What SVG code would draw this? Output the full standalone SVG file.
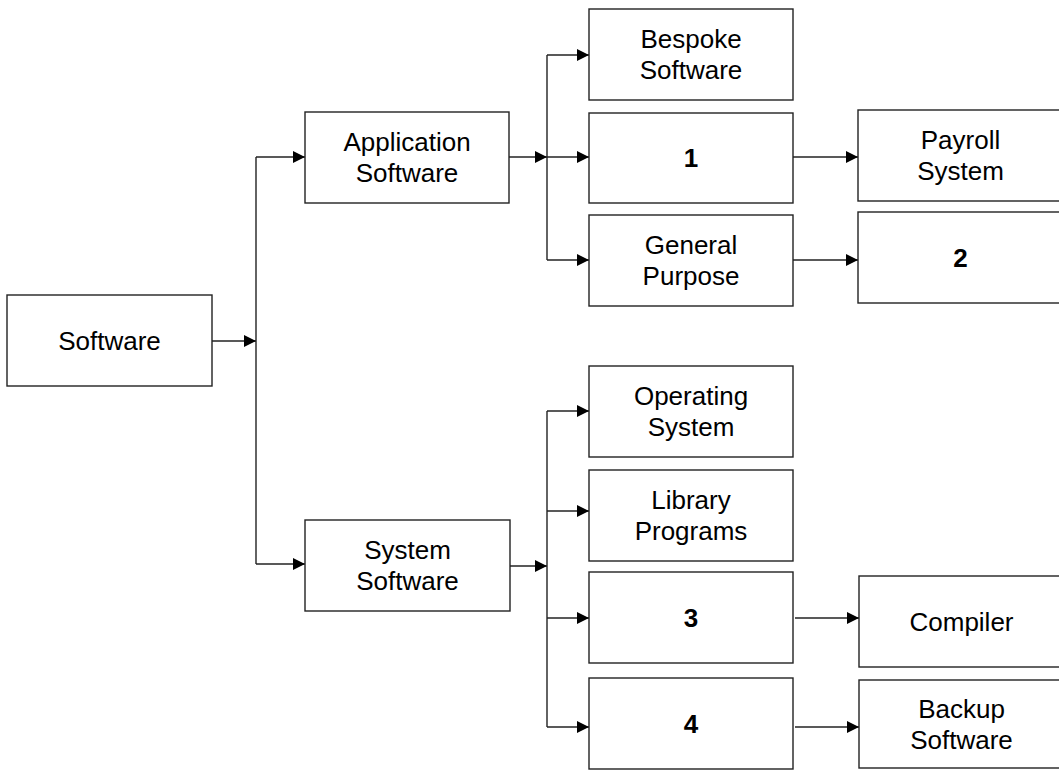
<svg xmlns="http://www.w3.org/2000/svg" width="1059" height="770" viewBox="0 0 1059 770">
<style>
.box{fill:#fff;stroke:#222;stroke-width:1.4}
.t{font-family:"Liberation Sans",Arial,sans-serif;font-size:26px;fill:#000;text-anchor:middle}
.b{font-weight:bold}
.c{fill:none;stroke:#222;stroke-width:1.4}
.a{fill:none;stroke:#222;stroke-width:1.4;marker-end:url(#ah)}
</style>
<defs>
<marker id="ah" markerUnits="userSpaceOnUse" markerWidth="12" markerHeight="12" refX="12" refY="6" orient="auto">
<path d="M0,0 L12,6 L0,12 z" fill="#000"/>
</marker>
</defs>
<rect width="1059" height="770" fill="#fff"/>
<g id="connectors">
<path class="a" d="M212,341 H256"/>
<path class="c" d="M256,157 V564"/>
<path class="a" d="M256,157 H305"/>
<path class="a" d="M256,564 H305"/>
<path class="a" d="M509,157 H547"/>
<path class="c" d="M547,55 V260"/>
<path class="a" d="M547,55 H589"/>
<path class="a" d="M547,157 H589"/>
<path class="a" d="M547,260 H589"/>
<path class="a" d="M793,157 H858"/>
<path class="a" d="M793,260 H858"/>
<path class="a" d="M510,566 H547"/>
<path class="c" d="M547,411 V727"/>
<path class="a" d="M547,411 H589"/>
<path class="a" d="M547,511 H589"/>
<path class="a" d="M547,618 H589"/>
<path class="a" d="M547,727 H589"/>
<path class="a" d="M795,618 H859"/>
<path class="a" d="M795,727 H859"/>
</g>
<g id="software"><rect class="box" x="7" y="295" width="205" height="91"/><text class="t" x="109.5" y="349.5">Software</text></g>
<g id="application"><rect class="box" x="305" y="112" width="204" height="91"/><text class="t" x="407" y="151">Application</text><text class="t" x="407" y="182">Software</text></g>
<g id="system"><rect class="box" x="305" y="520" width="205" height="91"/><text class="t" x="407.5" y="559">System</text><text class="t" x="407.5" y="590">Software</text></g>
<g id="bespoke"><rect class="box" x="589" y="9" width="204" height="91"/><text class="t" x="691" y="48">Bespoke</text><text class="t" x="691" y="79">Software</text></g>
<g id="n1"><rect class="box" x="589" y="113" width="204" height="90"/><text class="t b" x="691" y="167">1</text></g>
<g id="general"><rect class="box" x="589" y="215" width="204" height="91"/><text class="t" x="691" y="254">General</text><text class="t" x="691" y="285">Purpose</text></g>
<g id="payroll"><rect class="box" x="858" y="110" width="205" height="91"/><text class="t" x="960.5" y="149">Payroll</text><text class="t" x="960.5" y="180">System</text></g>
<g id="n2"><rect class="box" x="858" y="212" width="205" height="91"/><text class="t b" x="960.5" y="266.5">2</text></g>
<g id="os"><rect class="box" x="589" y="366" width="204" height="91"/><text class="t" x="691" y="405">Operating</text><text class="t" x="691" y="436">System</text></g>
<g id="library"><rect class="box" x="589" y="470" width="204" height="91"/><text class="t" x="691" y="509">Library</text><text class="t" x="691" y="540">Programs</text></g>
<g id="n3"><rect class="box" x="589" y="572" width="204" height="91"/><text class="t b" x="691" y="626.5">3</text></g>
<g id="n4"><rect class="box" x="589" y="678" width="204" height="91"/><text class="t b" x="691" y="732.5">4</text></g>
<g id="compiler"><rect class="box" x="859" y="576" width="205" height="91"/><text class="t" x="961.5" y="630.5">Compiler</text></g>
<g id="backup"><rect class="box" x="859" y="680" width="205" height="88"/><text class="t" x="961.5" y="718">Backup</text><text class="t" x="961.5" y="749">Software</text></g>
</svg>
